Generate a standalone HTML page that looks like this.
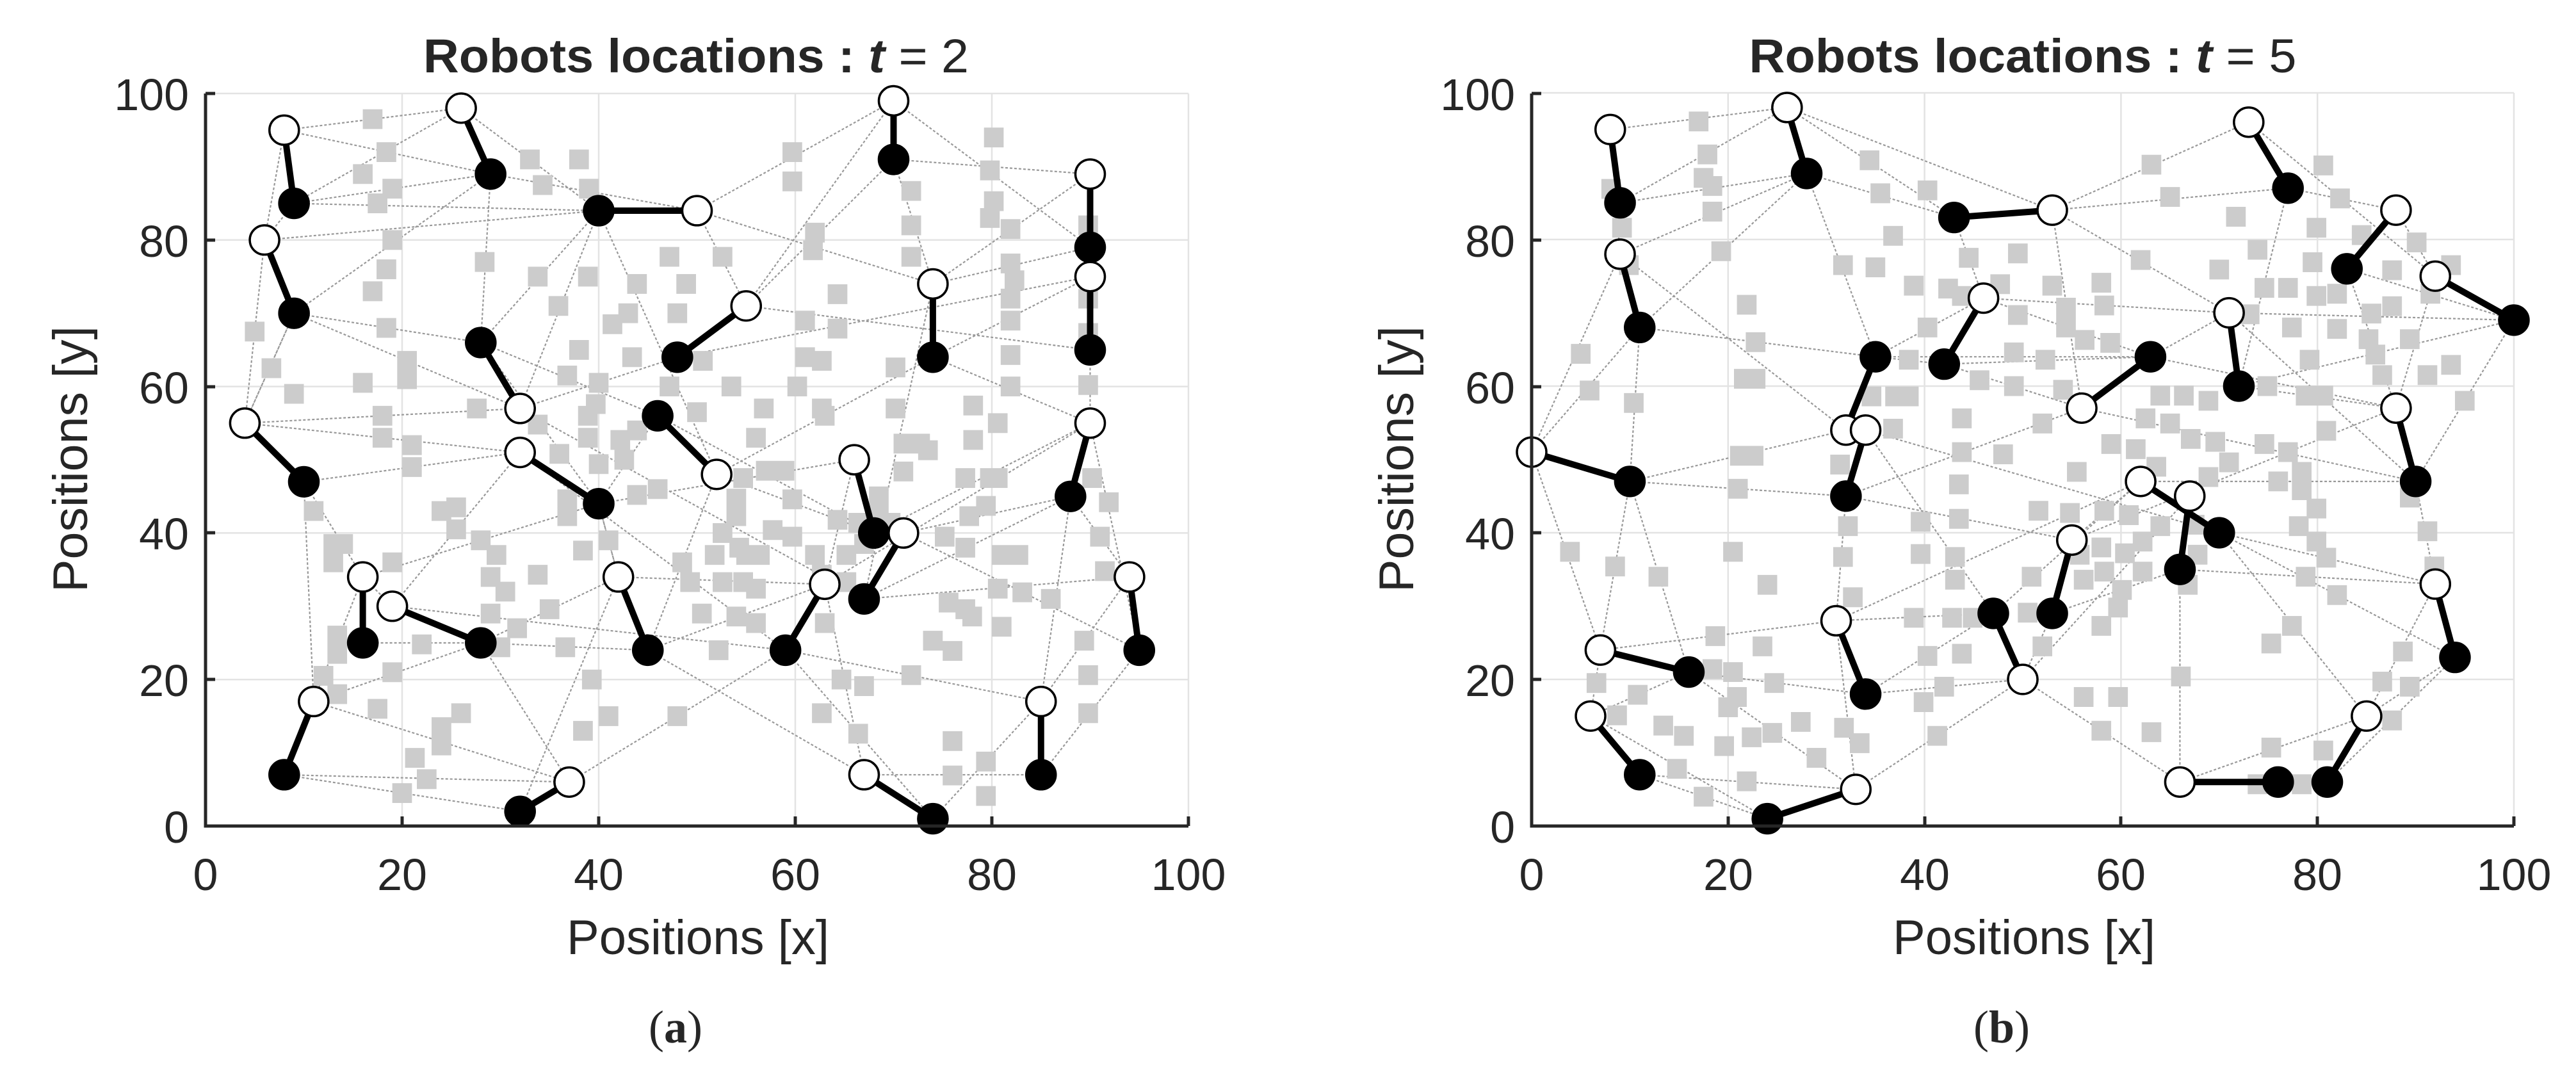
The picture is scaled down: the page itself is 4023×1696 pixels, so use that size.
<!DOCTYPE html>
<html><head><meta charset="utf-8"><style>
html,body{margin:0;padding:0;background:#fff;}
svg{display:block;}
text{font-family:"Liberation Sans",Arial,sans-serif;fill:#262626;}
</style></head><body>
<svg width="4023" height="1696" viewBox="0 0 4023 1696" xmlns="http://www.w3.org/2000/svg">
<defs>
<style>
.g{stroke:#e3e3e3;stroke-width:2.5;fill:none;vector-effect:non-scaling-stroke}
.e{stroke:#999;stroke-width:2.2;fill:none;vector-effect:non-scaling-stroke;stroke-dasharray:4 3}
.s{fill:#cccccc;stroke:none}
.p{stroke:#000;stroke-width:10;stroke-linecap:round;fill:none;vector-effect:non-scaling-stroke}
.w ellipse{fill:#fff;stroke:#000;stroke-width:3.5;vector-effect:non-scaling-stroke}
.b ellipse{fill:#000;stroke:#000;stroke-width:3.5;vector-effect:non-scaling-stroke}
.ax{stroke:#262626;stroke-width:5;fill:none}
.tk{font-size:70px}
.lb{font-size:76px}
</style>
</defs>

<!-- ================= PLOT A ================= -->
<g transform="translate(321,1290) scale(15.35,-11.44)">
<path class="g" d="M20 0V100M40 0V100M60 0V100M80 0V100M0 20H100M0 40H100M0 60H100M0 80H100M0 100H100M100 0V100"/>
<path class="e" d="M8 95L26 98M8 95L29 89M9 85L29 89M9 85L40 84M26 98L40 84M29 89L50 84M50 84L70 99M50 84L74 74M55 71L70 91M70 91L90 89M70 99L90 79M74 74L90 79M74 64L90 75M74 64L90 55M9 70L28 66M9 70L32 57M6 80L40 84M4 55L32 57M4 55L32 51M10 47L32 51M10 47L16 34M28 66L46 56M32 57L40 84M32 57L48 64M40 44L46 56M40 44L66 50M52 48L68 40M52 48L74 64M46 56L68 40M68 40L90 55M67 31L88 45M67 31L94 34M71 40L95 24M71 40L88 45M59 24L85 17M59 24L74 1M45 24L67 7M45 24L63 33M42 34L63 33M28 25L42 34M28 25L45 24M19 30L32 51M16 25L28 25M16 34L40 44M11 17L28 25M8 7L32 2M8 7L37 6M11 17L37 6M28 25L37 6M37 6L59 24M67 7L85 7M74 1L85 17M85 7L95 24M85 17L94 34M63 33L90 55M32 51L59 24M32 57L67 31M40 84L52 48M55 71L90 65M48 64L90 75M9 70L4 55M6 80L4 55M10 47L11 17M16 34L8 7M95 24L90 55M28 66L40 44M19 30L59 24M40 44L42 34M74 74L67 31M8 95L6 80M29 89L28 66M40 84L28 66M50 84L55 71M70 91L74 74M90 89L74 74M90 65L90 55M88 45L94 34M66 50L63 33M42 34L40 44M16 34L19 30M4 55L9 70M9 85L6 80M29 89L9 70M70 99L55 71M26 98L9 85M32 2L42 34M67 7L63 33M85 17L88 45M45 24L52 48"/>
<path class="s" d="M17 96.5m-1-1.35h2v2.7h-2zM18.4 92m-1-1.35h2v2.7h-2zM16 89m-1-1.35h2v2.7h-2zM19 87m-1-1.35h2v2.7h-2zM17.5 85m-1-1.35h2v2.7h-2zM19 80m-1-1.35h2v2.7h-2zM18.4 76m-1-1.35h2v2.7h-2zM17 73m-1-1.35h2v2.7h-2zM18.4 68m-1-1.35h2v2.7h-2zM5 67.5m-1-1.35h2v2.7h-2zM6.7 62.5m-1-1.35h2v2.7h-2zM9 59m-1-1.35h2v2.7h-2zM16 60.5m-1-1.35h2v2.7h-2zM20.5 63.5m-1-1.35h2v2.7h-2zM20.5 61m-1-1.35h2v2.7h-2zM18 56m-1-1.35h2v2.7h-2zM18 53m-1-1.35h2v2.7h-2zM21 52m-1-1.35h2v2.7h-2zM21 49m-1-1.35h2v2.7h-2zM11 43m-1-1.35h2v2.7h-2zM13 38.5m-1-1.35h2v2.7h-2zM14 38.5m-1-1.35h2v2.7h-2zM13 36m-1-1.35h2v2.7h-2zM19 36m-1-1.35h2v2.7h-2zM13.4 26m-1-1.35h2v2.7h-2zM13.4 23.5m-1-1.35h2v2.7h-2zM12 20.5m-1-1.35h2v2.7h-2zM13.4 18m-1-1.35h2v2.7h-2zM19 21m-1-1.35h2v2.7h-2zM17.5 16m-1-1.35h2v2.7h-2zM21.3 9.3m-1-1.35h2v2.7h-2zM22.5 6.4m-1-1.35h2v2.7h-2zM20 4.5m-1-1.35h2v2.7h-2zM24 13.5m-1-1.35h2v2.7h-2zM24 11m-1-1.35h2v2.7h-2zM26 15.4m-1-1.35h2v2.7h-2zM24 43m-1-1.35h2v2.7h-2zM25.5 43.5m-1-1.35h2v2.7h-2zM25.5 40.5m-1-1.35h2v2.7h-2zM28 39m-1-1.35h2v2.7h-2zM29.6 37m-1-1.35h2v2.7h-2zM29 34m-1-1.35h2v2.7h-2zM30.5 32m-1-1.35h2v2.7h-2zM29 29m-1-1.35h2v2.7h-2zM31.7 27m-1-1.35h2v2.7h-2zM30 24.4m-1-1.35h2v2.7h-2zM22 24.8m-1-1.35h2v2.7h-2zM27.6 57m-1-1.35h2v2.7h-2zM28.4 77m-1-1.35h2v2.7h-2zM33 91m-1-1.35h2v2.7h-2zM38 91m-1-1.35h2v2.7h-2zM34.3 87.5m-1-1.35h2v2.7h-2zM39 87m-1-1.35h2v2.7h-2zM33.8 75m-1-1.35h2v2.7h-2zM38.9 75m-1-1.35h2v2.7h-2zM43.9 74m-1-1.35h2v2.7h-2zM35.9 71m-1-1.35h2v2.7h-2zM43 70m-1-1.35h2v2.7h-2zM41.4 68.5m-1-1.35h2v2.7h-2zM38 65m-1-1.35h2v2.7h-2zM43.4 64m-1-1.35h2v2.7h-2zM36.8 61.5m-1-1.35h2v2.7h-2zM40 60.5m-1-1.35h2v2.7h-2zM39.7 57.6m-1-1.35h2v2.7h-2zM38.9 56m-1-1.35h2v2.7h-2zM38.9 53m-1-1.35h2v2.7h-2zM33.8 54.8m-1-1.35h2v2.7h-2zM36 50.8m-1-1.35h2v2.7h-2zM42.2 52.7m-1-1.35h2v2.7h-2zM42.6 50m-1-1.35h2v2.7h-2zM43.9 54m-1-1.35h2v2.7h-2zM40 49.4m-1-1.35h2v2.7h-2zM36.8 44.6m-1-1.35h2v2.7h-2zM36.8 42.3m-1-1.35h2v2.7h-2zM41 39m-1-1.35h2v2.7h-2zM38.4 37.6m-1-1.35h2v2.7h-2zM33.8 34.3m-1-1.35h2v2.7h-2zM35 29.6m-1-1.35h2v2.7h-2zM36.6 24.4m-1-1.35h2v2.7h-2zM39.3 20m-1-1.35h2v2.7h-2zM41 15m-1-1.35h2v2.7h-2zM38.4 13m-1-1.35h2v2.7h-2zM48 15m-1-1.35h2v2.7h-2zM43.9 45.2m-1-1.35h2v2.7h-2zM46 46m-1-1.35h2v2.7h-2zM47.2 60m-1-1.35h2v2.7h-2zM47.6 64m-1-1.35h2v2.7h-2zM47.2 77.7m-1-1.35h2v2.7h-2zM48.9 74m-1-1.35h2v2.7h-2zM48 70m-1-1.35h2v2.7h-2zM50.6 63.5m-1-1.35h2v2.7h-2zM50 56.5m-1-1.35h2v2.7h-2zM52.6 77.7m-1-1.35h2v2.7h-2zM53.5 60m-1-1.35h2v2.7h-2zM56 53m-1-1.35h2v2.7h-2zM54.7 47.5m-1-1.35h2v2.7h-2zM54 44.7m-1-1.35h2v2.7h-2zM54 42.3m-1-1.35h2v2.7h-2zM52.6 40m-1-1.35h2v2.7h-2zM54.3 38m-1-1.35h2v2.7h-2zM55 37m-1-1.35h2v2.7h-2zM56.4 37m-1-1.35h2v2.7h-2zM51.8 37m-1-1.35h2v2.7h-2zM48.5 36m-1-1.35h2v2.7h-2zM49.3 33.3m-1-1.35h2v2.7h-2zM52.6 33.3m-1-1.35h2v2.7h-2zM54.7 33.3m-1-1.35h2v2.7h-2zM56 32.4m-1-1.35h2v2.7h-2zM50.5 29m-1-1.35h2v2.7h-2zM54 28.6m-1-1.35h2v2.7h-2zM56 27.7m-1-1.35h2v2.7h-2zM52.2 24m-1-1.35h2v2.7h-2zM59.7 92m-1-1.35h2v2.7h-2zM59.7 88m-1-1.35h2v2.7h-2zM62 81m-1-1.35h2v2.7h-2zM61.8 78.6m-1-1.35h2v2.7h-2zM61 69m-1-1.35h2v2.7h-2zM61 64m-1-1.35h2v2.7h-2zM60.2 60m-1-1.35h2v2.7h-2zM64.3 72.6m-1-1.35h2v2.7h-2zM64.3 67.9m-1-1.35h2v2.7h-2zM63 56m-1-1.35h2v2.7h-2zM62.7 63.5m-1-1.35h2v2.7h-2zM56.8 57m-1-1.35h2v2.7h-2zM57 48.5m-1-1.35h2v2.7h-2zM58.9 48.5m-1-1.35h2v2.7h-2zM59.7 44.6m-1-1.35h2v2.7h-2zM59.7 39.5m-1-1.35h2v2.7h-2zM57.7 40.4m-1-1.35h2v2.7h-2zM62 37m-1-1.35h2v2.7h-2zM62.7 34.3m-1-1.35h2v2.7h-2zM63 27.7m-1-1.35h2v2.7h-2zM64.3 41.8m-1-1.35h2v2.7h-2zM65.2 37m-1-1.35h2v2.7h-2zM65.2 33.3m-1-1.35h2v2.7h-2zM64.7 20m-1-1.35h2v2.7h-2zM67 19.1m-1-1.35h2v2.7h-2zM62.7 15.4m-1-1.35h2v2.7h-2zM66.4 12.6m-1-1.35h2v2.7h-2zM71.8 20.6m-1-1.35h2v2.7h-2zM74 25.3m-1-1.35h2v2.7h-2zM76 23.9m-1-1.35h2v2.7h-2zM75.6 30.5m-1-1.35h2v2.7h-2zM77.3 29.6m-1-1.35h2v2.7h-2zM78 28.6m-1-1.35h2v2.7h-2zM75.2 39.5m-1-1.35h2v2.7h-2zM77.3 38m-1-1.35h2v2.7h-2zM77.7 42.3m-1-1.35h2v2.7h-2zM79.4 43.7m-1-1.35h2v2.7h-2zM79.8 47.5m-1-1.35h2v2.7h-2zM77.3 47.5m-1-1.35h2v2.7h-2zM80.6 47.5m-1-1.35h2v2.7h-2zM78.1 52.7m-1-1.35h2v2.7h-2zM78.1 57.4m-1-1.35h2v2.7h-2zM80.6 55m-1-1.35h2v2.7h-2zM81.9 60m-1-1.35h2v2.7h-2zM81.9 64.3m-1-1.35h2v2.7h-2zM81.9 69m-1-1.35h2v2.7h-2zM81.9 72m-1-1.35h2v2.7h-2zM82.3 74.5m-1-1.35h2v2.7h-2zM81.9 76.8m-1-1.35h2v2.7h-2zM81.9 81.5m-1-1.35h2v2.7h-2zM79.8 83m-1-1.35h2v2.7h-2zM80.2 85.3m-1-1.35h2v2.7h-2zM79.8 89.5m-1-1.35h2v2.7h-2zM80.2 94m-1-1.35h2v2.7h-2zM71.8 77.7m-1-1.35h2v2.7h-2zM71.8 82m-1-1.35h2v2.7h-2zM71.8 86.7m-1-1.35h2v2.7h-2zM70.2 62.6m-1-1.35h2v2.7h-2zM70.2 57m-1-1.35h2v2.7h-2zM71 52.2m-1-1.35h2v2.7h-2zM72.7 52.2m-1-1.35h2v2.7h-2zM68.5 45m-1-1.35h2v2.7h-2zM68.5 42.8m-1-1.35h2v2.7h-2zM69.7 41.4m-1-1.35h2v2.7h-2zM66.4 41.4m-1-1.35h2v2.7h-2zM67 38.5m-1-1.35h2v2.7h-2zM71 48.4m-1-1.35h2v2.7h-2zM73.5 51.3m-1-1.35h2v2.7h-2zM86 31m-1-1.35h2v2.7h-2zM83.1 31.9m-1-1.35h2v2.7h-2zM81 37m-1-1.35h2v2.7h-2zM82.7 37m-1-1.35h2v2.7h-2zM80.6 32.4m-1-1.35h2v2.7h-2zM81 27.2m-1-1.35h2v2.7h-2zM89.4 25.3m-1-1.35h2v2.7h-2zM89.8 20.6m-1-1.35h2v2.7h-2zM89.8 15.4m-1-1.35h2v2.7h-2zM91 39.5m-1-1.35h2v2.7h-2zM91.5 34.8m-1-1.35h2v2.7h-2zM91.9 44.2m-1-1.35h2v2.7h-2zM90.2 47.5m-1-1.35h2v2.7h-2zM89.8 60.2m-1-1.35h2v2.7h-2zM89.8 67.3m-1-1.35h2v2.7h-2zM89.8 72m-1-1.35h2v2.7h-2zM89.8 82m-1-1.35h2v2.7h-2zM76 11.6m-1-1.35h2v2.7h-2zM76 6.9m-1-1.35h2v2.7h-2zM79.4 8.8m-1-1.35h2v2.7h-2zM79.4 4.1m-1-1.35h2v2.7h-2zM62.7 57m-1-1.35h2v2.7h-2z"/>
<path class="p" d="M8 95L9 85M26 98L29 89M40 84L50 84M6 80L9 70M28 66L32 57M4 55L10 47M32 51L40 44M55 71L48 64M46 56L52 48M70 99L70 91M74 74L74 64M90 89L90 79M90 75L90 65M90 55L88 45M66 50L68 40M71 40L67 31M94 34L95 24M16 34L16 25M19 30L28 25M42 34L45 24M63 33L59 24M11 17L8 7M37 6L32 2M67 7L74 1M85 17L85 7"/>
<g class="b">
<ellipse cx="9" cy="85" rx="1.5" ry="2"/><ellipse cx="29" cy="89" rx="1.5" ry="2"/><ellipse cx="40" cy="84" rx="1.5" ry="2"/><ellipse cx="9" cy="70" rx="1.5" ry="2"/><ellipse cx="28" cy="66" rx="1.5" ry="2"/><ellipse cx="10" cy="47" rx="1.5" ry="2"/><ellipse cx="40" cy="44" rx="1.5" ry="2"/><ellipse cx="48" cy="64" rx="1.5" ry="2"/><ellipse cx="46" cy="56" rx="1.5" ry="2"/><ellipse cx="70" cy="91" rx="1.5" ry="2"/><ellipse cx="74" cy="64" rx="1.5" ry="2"/><ellipse cx="90" cy="79" rx="1.5" ry="2"/><ellipse cx="90" cy="65" rx="1.5" ry="2"/><ellipse cx="88" cy="45" rx="1.5" ry="2"/><ellipse cx="68" cy="40" rx="1.5" ry="2"/><ellipse cx="67" cy="31" rx="1.5" ry="2"/><ellipse cx="95" cy="24" rx="1.5" ry="2"/><ellipse cx="16" cy="25" rx="1.5" ry="2"/><ellipse cx="28" cy="25" rx="1.5" ry="2"/><ellipse cx="45" cy="24" rx="1.5" ry="2"/><ellipse cx="59" cy="24" rx="1.5" ry="2"/><ellipse cx="8" cy="7" rx="1.5" ry="2"/><ellipse cx="32" cy="2" rx="1.5" ry="2"/><ellipse cx="74" cy="1" rx="1.5" ry="2"/><ellipse cx="85" cy="7" rx="1.5" ry="2"/>
</g>
<g class="w">
<ellipse cx="8" cy="95" rx="1.5" ry="2"/><ellipse cx="26" cy="98" rx="1.5" ry="2"/><ellipse cx="50" cy="84" rx="1.5" ry="2"/><ellipse cx="6" cy="80" rx="1.5" ry="2"/><ellipse cx="32" cy="57" rx="1.5" ry="2"/><ellipse cx="4" cy="55" rx="1.5" ry="2"/><ellipse cx="32" cy="51" rx="1.5" ry="2"/><ellipse cx="55" cy="71" rx="1.5" ry="2"/><ellipse cx="52" cy="48" rx="1.5" ry="2"/><ellipse cx="70" cy="99" rx="1.5" ry="2"/><ellipse cx="74" cy="74" rx="1.5" ry="2"/><ellipse cx="90" cy="89" rx="1.5" ry="2"/><ellipse cx="90" cy="75" rx="1.5" ry="2"/><ellipse cx="90" cy="55" rx="1.5" ry="2"/><ellipse cx="66" cy="50" rx="1.5" ry="2"/><ellipse cx="71" cy="40" rx="1.5" ry="2"/><ellipse cx="94" cy="34" rx="1.5" ry="2"/><ellipse cx="16" cy="34" rx="1.5" ry="2"/><ellipse cx="19" cy="30" rx="1.5" ry="2"/><ellipse cx="42" cy="34" rx="1.5" ry="2"/><ellipse cx="63" cy="33" rx="1.5" ry="2"/><ellipse cx="11" cy="17" rx="1.5" ry="2"/><ellipse cx="37" cy="6" rx="1.5" ry="2"/><ellipse cx="67" cy="7" rx="1.5" ry="2"/><ellipse cx="85" cy="17" rx="1.5" ry="2"/>
</g>
</g>
<path class="ax" d="M321 146V1290H1856M628 1290v-15M935 1290v-15M1242 1290v-15M1549 1290v-15M1856 1290v-15M321 1061h15M321 832h15M321 604h15M321 375h15M321 146h15"/>
<text x="1087" y="113" text-anchor="middle" font-weight="bold" style="font-size:74px" textLength="852" lengthAdjust="spacingAndGlyphs" fill="#000">Robots locations : <tspan font-style="italic">t</tspan><tspan font-weight="normal"> = 2</tspan></text>
<g class="tk" text-anchor="middle">
<text x="321" y="1390">0</text><text x="628" y="1390">20</text><text x="935" y="1390">40</text><text x="1242" y="1390">60</text><text x="1549" y="1390">80</text><text x="1856" y="1390">100</text>
</g>
<g class="tk" text-anchor="end">
<text x="295" y="1316">0</text><text x="295" y="1087">20</text><text x="295" y="858">40</text><text x="295" y="630">60</text><text x="295" y="401">80</text><text x="295" y="172">100</text>
</g>
<text class="lb" x="1090" y="1490" text-anchor="middle" textLength="410" lengthAdjust="spacingAndGlyphs">Positions [x]</text>
<text class="lb" transform="translate(136,717) rotate(-90)" text-anchor="middle" textLength="416" lengthAdjust="spacingAndGlyphs">Positions [y]</text>
<text x="1055" y="1628" text-anchor="middle" style="font-family:'Liberation Serif',serif;font-size:72px" fill="#000">(<tspan font-weight="bold">a</tspan>)</text>

<!-- ================= PLOT B ================= -->
<g transform="translate(2392,1290) scale(15.34,-11.45)">
<path class="g" d="M20 0V100M40 0V100M60 0V100M80 0V100M0 20H100M0 40H100M0 60H100M0 80H100M0 100H100M100 0V100"/>
<path class="e" d="M8 95L26 98M9 85L26 98M9 85L28 89M9 78L28 89M28 89L43 83M28 89L35 64M26 98L53 84M43 83L46 72M53 84L73 96M53 84L77 87M53 84L56 57M53 84L71 70M77 87L88 84M73 96L92 75M77 87L72 60M83 76L100 69M71 70L100 69M72 60L100 69M71 70L90 47M11 68L35 64M9 78L32 54M11 68L10 47M0 51L9 78M0 51L7 24M10 47L32 54M10 47L32 45M10 47L16 21M32 45L56 57M35 64L63 64M42 63L63 64M34 54L70 40M32 45L55 39M34 54L47 29M46 72L63 64M56 57L90 47M62 47L90 47M63 64L88 57M70 40L92 33M70 40L94 23M66 35L92 33M66 35L66 6M70 40L85 15M53 29L66 35M47 29L31 28M50 20L66 6M50 20L67 45M31 28L7 24M31 28L33 5M34 18L16 21M34 18L50 20M16 21L6 15M11 7L33 5M24 1L6 15M16 21L33 5M66 6L85 15M81 6L94 23M85 15L92 33M88 57L92 75M90 47L92 33M47 29L62 47M55 39L88 57M31 28L62 47M42 63L56 57M0 51L11 68M8 95L9 78M26 98L43 83M46 72L71 70M63 64L71 70M88 84L92 75M83 76L88 57M100 69L90 47M94 23L85 15M7 24L6 15M11 7L24 1M24 1L33 5M33 5L50 20M34 18L47 29M53 29L50 20M55 39L62 47M35 64L42 63M32 45L31 28M72 60L88 57M7 24L10 47M46 72L35 64M11 68L28 89"/>
<path class="s" d="M17 96.1m-1-1.35h2v2.7h-2zM17.9 91.6m-1-1.35h2v2.7h-2zM18.4 87.3m-1-1.35h2v2.7h-2zM17.5 88.4m-1-1.35h2v2.7h-2zM18.4 83.8m-1-1.35h2v2.7h-2zM19.3 78.4m-1-1.35h2v2.7h-2zM9.2 81.6m-1-1.35h2v2.7h-2zM9.9 76.5m-1-1.35h2v2.7h-2zM8.1 86.9m-1-1.35h2v2.7h-2zM5 64.4m-1-1.35h2v2.7h-2zM5.9 59.4m-1-1.35h2v2.7h-2zM10.4 57.7m-1-1.35h2v2.7h-2zM21.9 71.1m-1-1.35h2v2.7h-2zM22.8 66m-1-1.35h2v2.7h-2zM21.6 61m-1-1.35h2v2.7h-2zM22.8 61m-1-1.35h2v2.7h-2zM21.2 50.5m-1-1.35h2v2.7h-2zM22.6 50.5m-1-1.35h2v2.7h-2zM21 46m-1-1.35h2v2.7h-2zM3.9 37.4m-1-1.35h2v2.7h-2zM8.5 35.4m-1-1.35h2v2.7h-2zM12.9 34m-1-1.35h2v2.7h-2zM20.5 37.4m-1-1.35h2v2.7h-2zM24 32.9m-1-1.35h2v2.7h-2zM18.7 25.9m-1-1.35h2v2.7h-2zM23.5 24.5m-1-1.35h2v2.7h-2zM18.4 21.4m-1-1.35h2v2.7h-2zM20.5 21m-1-1.35h2v2.7h-2zM24.7 19.5m-1-1.35h2v2.7h-2zM6.6 19.5m-1-1.35h2v2.7h-2zM10.8 17.9m-1-1.35h2v2.7h-2zM8.7 15.1m-1-1.35h2v2.7h-2zM13.4 13.7m-1-1.35h2v2.7h-2zM15.5 12.3m-1-1.35h2v2.7h-2zM20 16.2m-1-1.35h2v2.7h-2zM20.9 17.6m-1-1.35h2v2.7h-2zM27.4 14.2m-1-1.35h2v2.7h-2zM24.5 12.7m-1-1.35h2v2.7h-2zM22.4 12.1m-1-1.35h2v2.7h-2zM19.6 10.9m-1-1.35h2v2.7h-2zM14.8 7.8m-1-1.35h2v2.7h-2zM21.9 6.1m-1-1.35h2v2.7h-2zM17.5 4m-1-1.35h2v2.7h-2zM29 9.3m-1-1.35h2v2.7h-2zM31.8 13.4m-1-1.35h2v2.7h-2zM33.4 11.3m-1-1.35h2v2.7h-2zM32.7 31.2m-1-1.35h2v2.7h-2zM31.7 36.7m-1-1.35h2v2.7h-2zM32.2 40.9m-1-1.35h2v2.7h-2zM31.4 49.3m-1-1.35h2v2.7h-2zM34.4 90.8m-1-1.35h2v2.7h-2zM35.5 86.3m-1-1.35h2v2.7h-2zM36.8 80.5m-1-1.35h2v2.7h-2zM31.7 76.5m-1-1.35h2v2.7h-2zM35 76.2m-1-1.35h2v2.7h-2zM40.3 86.7m-1-1.35h2v2.7h-2zM44.5 77.5m-1-1.35h2v2.7h-2zM49.5 78.1m-1-1.35h2v2.7h-2zM38.9 73.7m-1-1.35h2v2.7h-2zM42.4 73.3m-1-1.35h2v2.7h-2zM43.8 72.3m-1-1.35h2v2.7h-2zM47.7 73.9m-1-1.35h2v2.7h-2zM53 73.7m-1-1.35h2v2.7h-2zM54.4 70.7m-1-1.35h2v2.7h-2zM58 74.1m-1-1.35h2v2.7h-2zM58.3 71m-1-1.35h2v2.7h-2zM62 77.2m-1-1.35h2v2.7h-2zM63.1 90.2m-1-1.35h2v2.7h-2zM65 85.8m-1-1.35h2v2.7h-2zM49.5 69.7m-1-1.35h2v2.7h-2zM40.3 68m-1-1.35h2v2.7h-2zM54.4 68m-1-1.35h2v2.7h-2zM56.3 66.3m-1-1.35h2v2.7h-2zM58.9 65.9m-1-1.35h2v2.7h-2zM49.1 64.6m-1-1.35h2v2.7h-2zM52.3 63.6m-1-1.35h2v2.7h-2zM38.4 63.6m-1-1.35h2v2.7h-2zM45.6 60.8m-1-1.35h2v2.7h-2zM49.1 60m-1-1.35h2v2.7h-2zM54.1 59.5m-1-1.35h2v2.7h-2zM34.6 58.6m-1-1.35h2v2.7h-2zM37 58.6m-1-1.35h2v2.7h-2zM38.4 58.6m-1-1.35h2v2.7h-2zM36.8 54.2m-1-1.35h2v2.7h-2zM43.8 55.6m-1-1.35h2v2.7h-2zM52 54.9m-1-1.35h2v2.7h-2zM43.8 51m-1-1.35h2v2.7h-2zM48 50.7m-1-1.35h2v2.7h-2zM55.5 48.3m-1-1.35h2v2.7h-2zM59 52.1m-1-1.35h2v2.7h-2zM61.5 51.4m-1-1.35h2v2.7h-2zM62.5 55.6m-1-1.35h2v2.7h-2zM64 58.7m-1-1.35h2v2.7h-2zM66.4 58.7m-1-1.35h2v2.7h-2zM65 54.9m-1-1.35h2v2.7h-2zM67.1 52.8m-1-1.35h2v2.7h-2zM68.9 58m-1-1.35h2v2.7h-2zM69.6 52.4m-1-1.35h2v2.7h-2zM71 49.6m-1-1.35h2v2.7h-2zM68.9 47.6m-1-1.35h2v2.7h-2zM63.6 49m-1-1.35h2v2.7h-2zM43.5 46.6m-1-1.35h2v2.7h-2zM43.5 41.9m-1-1.35h2v2.7h-2zM39.6 41.5m-1-1.35h2v2.7h-2zM39.6 37.1m-1-1.35h2v2.7h-2zM43.1 36.7m-1-1.35h2v2.7h-2zM43.1 33.6m-1-1.35h2v2.7h-2zM51.6 43m-1-1.35h2v2.7h-2zM54.8 42.7m-1-1.35h2v2.7h-2zM58.3 43m-1-1.35h2v2.7h-2zM60.8 42.4m-1-1.35h2v2.7h-2zM64 40.9m-1-1.35h2v2.7h-2zM58 38m-1-1.35h2v2.7h-2zM60.4 37.2m-1-1.35h2v2.7h-2zM62.2 38.8m-1-1.35h2v2.7h-2zM58.3 34.7m-1-1.35h2v2.7h-2zM62.2 34.7m-1-1.35h2v2.7h-2zM60.1 32.2m-1-1.35h2v2.7h-2zM56.2 33.6m-1-1.35h2v2.7h-2zM50.9 34m-1-1.35h2v2.7h-2zM59.7 29.8m-1-1.35h2v2.7h-2zM58 27.3m-1-1.35h2v2.7h-2zM50.5 29.1m-1-1.35h2v2.7h-2zM42.8 28.4m-1-1.35h2v2.7h-2zM44.9 28.4m-1-1.35h2v2.7h-2zM38.9 28.4m-1-1.35h2v2.7h-2zM52 24.5m-1-1.35h2v2.7h-2zM43.8 23.5m-1-1.35h2v2.7h-2zM40.3 23.2m-1-1.35h2v2.7h-2zM42 19m-1-1.35h2v2.7h-2zM39.9 16.9m-1-1.35h2v2.7h-2zM41.3 12.3m-1-1.35h2v2.7h-2zM56.2 17.6m-1-1.35h2v2.7h-2zM59.7 17.6m-1-1.35h2v2.7h-2zM58 13m-1-1.35h2v2.7h-2zM63.1 12.8m-1-1.35h2v2.7h-2zM66.1 20.4m-1-1.35h2v2.7h-2zM75.3 24.9m-1-1.35h2v2.7h-2zM77.4 27.3m-1-1.35h2v2.7h-2zM78.8 34m-1-1.35h2v2.7h-2zM82 31.5m-1-1.35h2v2.7h-2zM80.9 36.6m-1-1.35h2v2.7h-2zM79.9 38.8m-1-1.35h2v2.7h-2zM78.1 40.9m-1-1.35h2v2.7h-2zM79.9 43.3m-1-1.35h2v2.7h-2zM78.4 45.8m-1-1.35h2v2.7h-2zM78.4 48.3m-1-1.35h2v2.7h-2zM76 47m-1-1.35h2v2.7h-2zM74.6 52.1m-1-1.35h2v2.7h-2zM77 51m-1-1.35h2v2.7h-2zM80.9 53.9m-1-1.35h2v2.7h-2zM78.8 58.7m-1-1.35h2v2.7h-2zM80.6 58.7m-1-1.35h2v2.7h-2zM74.9 60m-1-1.35h2v2.7h-2zM79.2 63.6m-1-1.35h2v2.7h-2zM82 67.8m-1-1.35h2v2.7h-2zM79.9 72.3m-1-1.35h2v2.7h-2zM82 72.6m-1-1.35h2v2.7h-2zM77 73.4m-1-1.35h2v2.7h-2zM74.6 73.4m-1-1.35h2v2.7h-2zM77.4 68m-1-1.35h2v2.7h-2zM73.1 69.8m-1-1.35h2v2.7h-2zM70 75.9m-1-1.35h2v2.7h-2zM73.9 78.6m-1-1.35h2v2.7h-2zM71.7 83.1m-1-1.35h2v2.7h-2zM79.5 76.9m-1-1.35h2v2.7h-2zM79.9 81.6m-1-1.35h2v2.7h-2zM80.6 90.1m-1-1.35h2v2.7h-2zM82.3 85.6m-1-1.35h2v2.7h-2zM84.5 80.6m-1-1.35h2v2.7h-2zM87.6 75.8m-1-1.35h2v2.7h-2zM87.6 70.9m-1-1.35h2v2.7h-2zM85.5 69.9m-1-1.35h2v2.7h-2zM85.2 66.4m-1-1.35h2v2.7h-2zM85.9 64.3m-1-1.35h2v2.7h-2zM86.6 61.5m-1-1.35h2v2.7h-2zM89.4 66.4m-1-1.35h2v2.7h-2zM91.2 61.5m-1-1.35h2v2.7h-2zM91.5 72.6m-1-1.35h2v2.7h-2zM93.6 62.9m-1-1.35h2v2.7h-2zM95 58m-1-1.35h2v2.7h-2zM90.1 79.6m-1-1.35h2v2.7h-2zM93.6 76.5m-1-1.35h2v2.7h-2zM89.4 44.8m-1-1.35h2v2.7h-2zM91.2 40.2m-1-1.35h2v2.7h-2zM91.9 35.4m-1-1.35h2v2.7h-2zM88.7 23.8m-1-1.35h2v2.7h-2zM86.6 19.7m-1-1.35h2v2.7h-2zM89.4 19m-1-1.35h2v2.7h-2zM87.6 14.4m-1-1.35h2v2.7h-2zM80.6 10.3m-1-1.35h2v2.7h-2zM75.3 10.7m-1-1.35h2v2.7h-2zM73.9 5.7m-1-1.35h2v2.7h-2zM78.4 5.7m-1-1.35h2v2.7h-2zM67.5 41.1m-1-1.35h2v2.7h-2zM67.8 37m-1-1.35h2v2.7h-2zM66.8 32.9m-1-1.35h2v2.7h-2zM55.8 37m-1-1.35h2v2.7h-2z"/>
<path class="p" d="M8 95L9 85M26 98L28 89M43 83L53 84M9 78L11 68M73 96L77 87M88 84L83 76M92 75L100 69M46 72L42 63M32 54L35 64M34 54L32 45M56 57L63 64M71 70L72 60M0 51L10 47M88 57L90 47M62 47L70 40M67 45L66 35M55 39L53 29M50 20L47 29M31 28L34 18M7 24L16 21M92 33L94 23M6 15L11 7M33 5L24 1M66 6L76 6M81 6L85 15"/>
<g class="b">
<ellipse cx="9" cy="85" rx="1.5" ry="2"/><ellipse cx="28" cy="89" rx="1.5" ry="2"/><ellipse cx="43" cy="83" rx="1.5" ry="2"/><ellipse cx="11" cy="68" rx="1.5" ry="2"/><ellipse cx="77" cy="87" rx="1.5" ry="2"/><ellipse cx="83" cy="76" rx="1.5" ry="2"/><ellipse cx="100" cy="69" rx="1.5" ry="2"/><ellipse cx="42" cy="63" rx="1.5" ry="2"/><ellipse cx="35" cy="64" rx="1.5" ry="2"/><ellipse cx="32" cy="45" rx="1.5" ry="2"/><ellipse cx="63" cy="64" rx="1.5" ry="2"/><ellipse cx="72" cy="60" rx="1.5" ry="2"/><ellipse cx="10" cy="47" rx="1.5" ry="2"/><ellipse cx="90" cy="47" rx="1.5" ry="2"/><ellipse cx="70" cy="40" rx="1.5" ry="2"/><ellipse cx="66" cy="35" rx="1.5" ry="2"/><ellipse cx="53" cy="29" rx="1.5" ry="2"/><ellipse cx="47" cy="29" rx="1.5" ry="2"/><ellipse cx="34" cy="18" rx="1.5" ry="2"/><ellipse cx="16" cy="21" rx="1.5" ry="2"/><ellipse cx="94" cy="23" rx="1.5" ry="2"/><ellipse cx="11" cy="7" rx="1.5" ry="2"/><ellipse cx="24" cy="1" rx="1.5" ry="2"/><ellipse cx="76" cy="6" rx="1.5" ry="2"/><ellipse cx="81" cy="6" rx="1.5" ry="2"/>
</g>
<g class="w">
<ellipse cx="8" cy="95" rx="1.5" ry="2"/><ellipse cx="26" cy="98" rx="1.5" ry="2"/><ellipse cx="53" cy="84" rx="1.5" ry="2"/><ellipse cx="9" cy="78" rx="1.5" ry="2"/><ellipse cx="73" cy="96" rx="1.5" ry="2"/><ellipse cx="88" cy="84" rx="1.5" ry="2"/><ellipse cx="92" cy="75" rx="1.5" ry="2"/><ellipse cx="46" cy="72" rx="1.5" ry="2"/><ellipse cx="32" cy="54" rx="1.5" ry="2"/><ellipse cx="34" cy="54" rx="1.5" ry="2"/><ellipse cx="56" cy="57" rx="1.5" ry="2"/><ellipse cx="71" cy="70" rx="1.5" ry="2"/><ellipse cx="0" cy="51" rx="1.5" ry="2"/><ellipse cx="88" cy="57" rx="1.5" ry="2"/><ellipse cx="62" cy="47" rx="1.5" ry="2"/><ellipse cx="67" cy="45" rx="1.5" ry="2"/><ellipse cx="55" cy="39" rx="1.5" ry="2"/><ellipse cx="50" cy="20" rx="1.5" ry="2"/><ellipse cx="31" cy="28" rx="1.5" ry="2"/><ellipse cx="7" cy="24" rx="1.5" ry="2"/><ellipse cx="92" cy="33" rx="1.5" ry="2"/><ellipse cx="6" cy="15" rx="1.5" ry="2"/><ellipse cx="33" cy="5" rx="1.5" ry="2"/><ellipse cx="66" cy="6" rx="1.5" ry="2"/><ellipse cx="85" cy="15" rx="1.5" ry="2"/>
</g>
</g>
<path class="ax" d="M2392 146V1290H3926M2699 1290v-15M3006 1290v-15M3312 1290v-15M3619 1290v-15M3926 1290v-15M2392 1061h15M2392 832h15M2392 604h15M2392 375h15M2392 146h15"/>
<text x="3159" y="113" text-anchor="middle" font-weight="bold" style="font-size:74px" textLength="855" lengthAdjust="spacingAndGlyphs" fill="#000">Robots locations : <tspan font-style="italic">t</tspan><tspan font-weight="normal"> = 5</tspan></text>
<g class="tk" text-anchor="middle">
<text x="2392" y="1390">0</text><text x="2699" y="1390">20</text><text x="3006" y="1390">40</text><text x="3312" y="1390">60</text><text x="3619" y="1390">80</text><text x="3926" y="1390">100</text>
</g>
<g class="tk" text-anchor="end">
<text x="2366" y="1316">0</text><text x="2366" y="1087">20</text><text x="2366" y="858">40</text><text x="2366" y="630">60</text><text x="2366" y="401">80</text><text x="2366" y="172">100</text>
</g>
<text class="lb" x="3161" y="1490" text-anchor="middle" textLength="410" lengthAdjust="spacingAndGlyphs">Positions [x]</text>
<text class="lb" transform="translate(2207,717) rotate(-90)" text-anchor="middle" textLength="416" lengthAdjust="spacingAndGlyphs">Positions [y]</text>
<text x="3126" y="1628" text-anchor="middle" style="font-family:'Liberation Serif',serif;font-size:72px" fill="#000">(<tspan font-weight="bold">b</tspan>)</text>
</svg>
</body></html>
